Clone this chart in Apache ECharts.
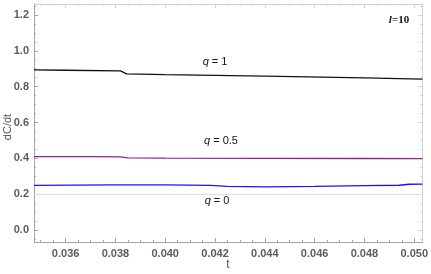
<!DOCTYPE html>
<html><head><meta charset="utf-8">
<script src="https://cdn.jsdelivr.net/npm/echarts@6/dist/echarts.min.js"></script>
<style>html,body{margin:0;padding:0;background:#fff}#c{width:431px;height:274px}</style>
</head><body><div id="c"></div>
<script>
// ---- data ----
var tQ1 = [0.03473, 0.0360, 0.0382, 0.03845, 0.0400, 0.0440, 0.0480, 0.05033];
var vQ1 = [0.8935, 0.8915, 0.8880, 0.8710, 0.8670, 0.8585, 0.8490, 0.8420];
var tQ05 = [0.03473, 0.0370, 0.0382, 0.03850, 0.0400, 0.0440, 0.0480, 0.05033];
var vQ05 = [0.4100, 0.4095, 0.4090, 0.4030, 0.4020, 0.4005, 0.3995, 0.3990];
var tQ0 = [0.03473, 0.0380, 0.0400, 0.0418, 0.0425, 0.0440, 0.0460, 0.0480, 0.0494, 0.0498, 0.05033];
var vQ0 = [0.2500, 0.2525, 0.2520, 0.2500, 0.2440, 0.2415, 0.2440, 0.2480, 0.2505, 0.2560, 0.2570];
var xMajor = [0.036, 0.038, 0.040, 0.042, 0.044, 0.046, 0.048, 0.050];
var xMinor = [0.0350, 0.0355, 0.0365, 0.0370, 0.0375, 0.0385, 0.0390, 0.0395, 0.0405, 0.0410, 0.0415, 0.0425, 0.0430, 0.0435, 0.0445, 0.0450, 0.0455, 0.0465, 0.0470, 0.0475, 0.0485, 0.0490, 0.0495];
var yMajor = [0.0, 0.2, 0.4, 0.6, 0.8, 1.0, 1.2];
var yMinor = [-0.05, 0.05, 0.10, 0.15, 0.25, 0.30, 0.35, 0.45, 0.50, 0.55, 0.65, 0.70, 0.75, 0.85, 0.90, 0.95, 1.05, 1.10, 1.15, 1.25];
var gridLineY = 0.2;
var annotations = [
  {t: 0.0420, v: 0.938, q: '1'},
  {t: 0.04224, v: 0.498, q: '0.5'},
  {t: 0.04208, v: 0.163, q: '0'}
];
var xRange = [0.03473, 0.05033];
var yRange = [-0.066, 1.261];

function zip(a, b) { return a.map(function (x, i) { return [x, b[i]]; }); }

var chart = echarts.init(document.getElementById('c'), null, {renderer: 'canvas'});
var labelStyle = {color: '#5c5c5c', fontWeight: 'bold', fontSize: 11, fontFamily: 'Liberation Sans, Arial, sans-serif'};

function xAx(pos, vals, len, lineColor, showLine, labels) {
  return {
    type: 'value', position: pos, min: xRange[0], max: xRange[1],
    axisLine: {show: showLine, onZero: false, lineStyle: {color: lineColor, width: 1}},
    axisTick: {show: true, inside: true, length: len, customValues: vals, lineStyle: {color: lineColor}},
    axisLabel: labels ? Object.assign({show: true, customValues: vals, margin: 6, formatter: function (v) { return v.toFixed(3); }}, labelStyle) : {show: false},
    splitLine: {show: false}
  };
}
function yAx(pos, vals, len, lineColor, showLine, labels) {
  return {
    type: 'value', position: pos, min: yRange[0], max: yRange[1],
    axisLine: {show: showLine, onZero: false, lineStyle: {color: lineColor, width: 1}},
    axisTick: {show: true, inside: true, length: len, customValues: vals, lineStyle: {color: lineColor}},
    axisLabel: labels ? Object.assign({show: true, customValues: vals, margin: 5, formatter: function (v) { return v.toFixed(1); }}, labelStyle) : {show: false},
    splitLine: {show: false}
  };
}

chart.setOption({
  animation: false,
  grid: {left: 34, right: 8, top: 4, bottom: 32},
  xAxis: [
    xAx('bottom', xMajor, 4, '#a6a6a6', true, true),
    xAx('bottom', xMinor, 2, '#a6a6a6', false, false),
    xAx('top', xMajor, 4, '#d0d0d0', true, false),
    xAx('top', xMinor, 2, '#d0d0d0', false, false)
  ],
  yAxis: [
    yAx('left', yMajor, 4, '#a6a6a6', true, true),
    yAx('left', yMinor, 2, '#a6a6a6', false, false),
    yAx('right', yMajor, 4, '#d0d0d0', true, false),
    yAx('right', yMinor, 2, '#d0d0d0', false, false)
  ],
  series: [
    {type: 'line', data: zip(tQ0, vQ0), showSymbol: false, symbol: 'none', lineStyle: {color: '#1414ff', width: 1.3}, z: 3,
     markLine: {silent: true, symbol: 'none', label: {show: false}, lineStyle: {color: '#dedede', width: 1, type: 'solid'}, data: [{yAxis: gridLineY}], z: 1}},
    {type: 'line', data: zip(tQ05, vQ05), showSymbol: false, symbol: 'none', lineStyle: {color: '#952090', width: 1.3}, z: 3},
    {type: 'line', data: zip(tQ1, vQ1), showSymbol: false, symbol: 'none', lineStyle: {color: '#111111', width: 1.3}, z: 3}
  ]
});

var graphics = [
  {type: 'text', rotation: Math.PI / 2, x: 2, y: 127, style: {text: 'dC/dt', fill: '#555', font: '11px "Liberation Sans", Arial, sans-serif', align: 'center', verticalAlign: 'top'}},
  {type: 'text', style: {text: 't', fill: '#555', font: '12px "Liberation Sans", Arial, sans-serif', align: 'center', verticalAlign: 'middle'}, x: 228, y: 265},
  {type: 'text', style: {rich: {a: {font: 'italic bold 11px "Liberation Serif", serif', fill: '#111'}, b: {font: 'bold 11px "Liberation Serif", serif', fill: '#111'}}, text: '{a|l}{b|=10}', align: 'center', verticalAlign: 'middle'}, x: 399, y: 20}
];
annotations.forEach(function (a) {
  var p = chart.convertToPixel({xAxisIndex: 0, yAxisIndex: 0}, [a.t, a.v]);
  graphics.push({type: 'text', x: p[0], y: p[1], style: {
    rich: {i: {font: 'italic 11px "Liberation Sans", Arial, sans-serif', fill: '#111'}, n: {font: '11px "Liberation Sans", Arial, sans-serif', fill: '#111'}},
    text: '{i|q}{n| = ' + a.q + '}', align: 'center', verticalAlign: 'middle'}});
});
chart.setOption({graphic: graphics});
</script>
</body></html>
